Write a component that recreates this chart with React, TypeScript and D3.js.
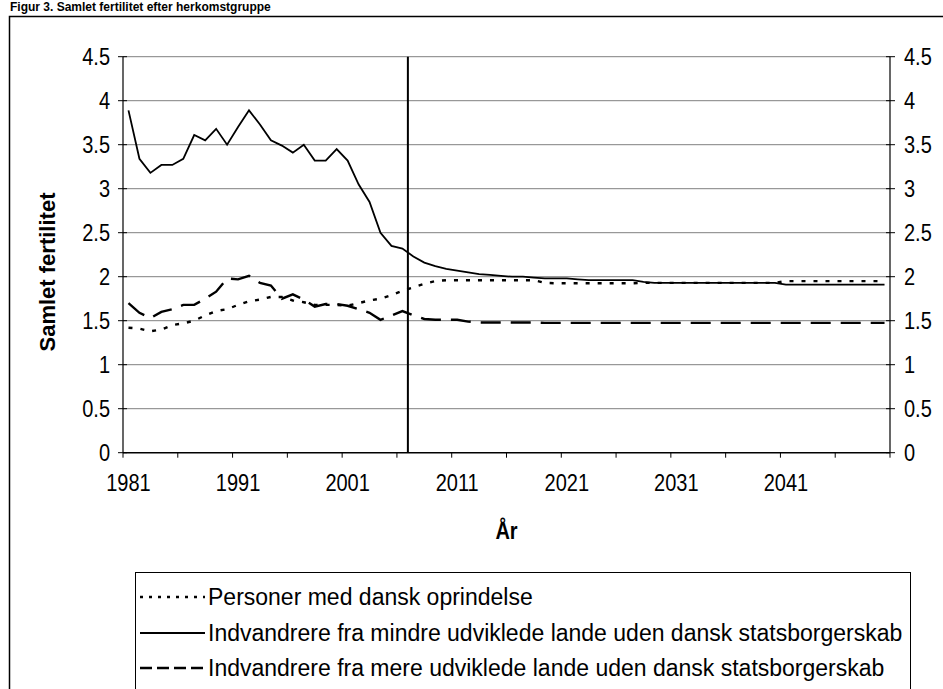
import React from "react";
import * as d3 from "d3";

const years: number[] = d3.range(1981, 2051);

const tickLabels: string[] = ["1981", "1991", "2001", "2011", "2021", "2031", "2041"];
const yTicks: number[] = [0, 0.5, 1, 1.5, 2, 2.5, 3, 3.5, 4, 4.5];

// Personer med dansk oprindelse
const danskValues: number[] = [
  1.42, 1.41, 1.38, 1.40, 1.45, 1.47, 1.50, 1.56, 1.61, 1.63,
  1.68, 1.72, 1.74, 1.77, 1.77, 1.73, 1.71, 1.68, 1.68, 1.68,
  1.67, 1.70, 1.73, 1.75, 1.79, 1.84, 1.88, 1.92, 1.95, 1.96,
  1.96, 1.96, 1.96, 1.96, 1.96, 1.96, 1.96, 1.96, 1.93, 1.925,
  1.925, 1.925, 1.925, 1.925, 1.925, 1.925, 1.925, 1.93, 1.93, 1.93,
  1.93, 1.93, 1.93, 1.93, 1.93, 1.93, 1.93, 1.93, 1.93, 1.93,
  1.95, 1.95, 1.95, 1.95, 1.95, 1.95, 1.95, 1.95, 1.95, 1.95,
];

// Indvandrere fra mindre udviklede lande
const mindreValues: number[] = [
  3.89, 3.34, 3.18, 3.27, 3.27, 3.34, 3.61, 3.55, 3.68, 3.50,
  3.70, 3.89, 3.73, 3.55, 3.49, 3.41, 3.50, 3.32, 3.32, 3.45,
  3.32, 3.05, 2.85, 2.50, 2.35, 2.32, 2.23, 2.16, 2.12, 2.09,
  2.07, 2.05, 2.03, 2.02, 2.01, 2.00, 2.00, 1.99, 1.98, 1.98,
  1.98, 1.97, 1.96, 1.96, 1.96, 1.96, 1.96, 1.94, 1.93, 1.93,
  1.93, 1.93, 1.93, 1.93, 1.93, 1.93, 1.93, 1.93, 1.93, 1.93,
  1.91, 1.91, 1.91, 1.91, 1.91, 1.91, 1.91, 1.91, 1.91, 1.91,
];

// Indvandrere fra mere udviklede lande
const mereValues: number[] = [
  1.70, 1.59, 1.53, 1.60, 1.63, 1.68, 1.68, 1.75, 1.83, 1.98,
  1.97, 2.01, 1.93, 1.90, 1.75, 1.80, 1.74, 1.66, 1.69, 1.69,
  1.67, 1.63, 1.59, 1.51, 1.56, 1.61, 1.56, 1.52, 1.51, 1.51,
  1.51, 1.49, 1.48, 1.48, 1.48, 1.48, 1.48, 1.48, 1.475, 1.475,
  1.475, 1.475, 1.475, 1.475, 1.475, 1.475, 1.475, 1.475, 1.475, 1.475,
  1.475, 1.475, 1.475, 1.475, 1.475, 1.475, 1.475, 1.475, 1.475, 1.475,
  1.475, 1.475, 1.475, 1.475, 1.475, 1.475, 1.475, 1.475, 1.475, 1.475,
];

const splitYear = 2007;

const seriesNames: string[] = [
  "Personer med dansk oprindelse",
  "Indvandrere fra mindre udviklede lande uden dansk statsborgerskab",
  "Indvandrere fra mere udviklede lande uden dansk statsborgerskab",
];

const titleText = "Figur 3. Samlet fertilitet efter herkomstgruppe";

const FONT = "'Liberation Sans', Arial, sans-serif";

export default function App() {
  const W = 943;
  const H = 689;
  const left = 123;
  const right = 890;
  const top = 56.7;
  const bottom = 452.7;

  const x = d3.scaleBand<number>().domain(years).range([left, right]).padding(0);
  const y = d3.scaleLinear().domain([0, 4.5]).range([bottom, top]);
  const cx = (yr: number) => (x(yr) as number) + x.bandwidth() / 2;

  const line = d3
    .line<number>()
    .x((_, i) => cx(years[i]))
    .y((d) => y(d));

  const series = [
    { name: seriesNames[0], values: danskValues, dash: "4,8", width: 2.4, legendDash: "3,6" },
    { name: seriesNames[1], values: mindreValues, dash: "", width: 1.8, legendDash: "" },
    { name: seriesNames[2], values: mereValues, dash: "20,10", width: 2.4, legendDash: "12,5" },
  ];

  const xTickIdx = d3.range(0, years.length + 1, 5);
  const xTickPos = (i: number) => left + i * x.bandwidth();
  const splitX = x(splitYear) as number;

  const legendX = 135;
  const legendY = 572;
  const legendRows = [597, 633, 668];

  const stretched = (tx: number, ty: number) => `translate(${tx},${ty}) scale(1,1.15)`;

  return (
    <div style={{ position: "absolute", left: 0, top: 0 }}>
      <svg width={W} height={H} style={{ display: "block", background: "#fff" }}>
        <text x={10} y={11} fontFamily={FONT} fontWeight="bold" fontSize={12} fill="#000">
          {titleText}
        </text>
        {/* outer frame */}
        <rect x={9.5} y={16.5} width={W + 20} height={H + 20} fill="none" stroke="#000" strokeWidth={1.5} />

        {/* gridlines */}
        {yTicks.filter((t) => t > 0).map((t) => (
          <line key={t} x1={left} x2={right} y1={y(t)} y2={y(t)} stroke="#808080" strokeWidth={1} />
        ))}

        {/* axes */}
        <line x1={left} x2={left} y1={top} y2={bottom} stroke="#000" strokeWidth={1.2} />
        <line x1={right} x2={right} y1={top} y2={bottom} stroke="#000" strokeWidth={1.2} />
        <line x1={left} x2={right} y1={bottom} y2={bottom} stroke="#000" strokeWidth={1.5} />
        {yTicks.map((t) => (
          <g key={"yt" + t}>
            <line x1={left - 5} x2={left + 4} y1={y(t)} y2={y(t)} stroke="#000" strokeWidth={1} />
            <line x1={right - 4} x2={right + 5} y1={y(t)} y2={y(t)} stroke="#000" strokeWidth={1} />
            <text transform={stretched(left - 13, y(t) + 8)} textAnchor="end" fontFamily={FONT} fontSize={20} fill="#000">
              {String(t)}
            </text>
            <text transform={stretched(right + 14, y(t) + 8)} textAnchor="start" fontFamily={FONT} fontSize={20} fill="#000">
              {String(t)}
            </text>
          </g>
        ))}
        {xTickIdx.map((i) => (
          <line key={"xt" + i} x1={xTickPos(i)} x2={xTickPos(i)} y1={bottom} y2={bottom + 5} stroke="#000" strokeWidth={1} />
        ))}
        {tickLabels.map((lab) => (
          <text key={lab} transform={stretched(cx(+lab), 491)} textAnchor="middle" fontFamily={FONT} fontSize={20} fill="#000">
            {lab}
          </text>
        ))}

        <text transform={stretched((left + right) / 2, 539)} textAnchor="middle" fontFamily={FONT} fontWeight="bold" fontSize={20} fill="#000">
          År
        </text>
        <text
          transform={`translate(55, 272) rotate(-90)`}
          textAnchor="middle"
          fontFamily={FONT}
          fontWeight="bold"
          fontSize={22}
          fill="#000"
        >
          Samlet fertilitet
        </text>

        {/* split line */}
        <line x1={splitX} x2={splitX} y1={top} y2={bottom} stroke="#000" strokeWidth={2} />

        {/* series */}
        {series.map((s) => (
          <path
            key={s.name}
            d={line(s.values) || ""}
            fill="none"
            stroke="#000"
            strokeWidth={s.width}
            strokeDasharray={s.dash || undefined}
          />
        ))}

        {/* legend */}
        <rect x={legendX + 0.5} y={legendY + 0.5} width={775} height={150} fill="#fff" stroke="#000" strokeWidth={1} />
        {series.map((s, i) => (
          <g key={"lg" + i}>
            <line
              x1={legendX + 5}
              x2={legendX + 70}
              y1={legendRows[i]}
              y2={legendRows[i]}
              stroke="#000"
              strokeWidth={s.width}
              strokeDasharray={s.legendDash || undefined}
            />
            <text x={legendX + 73} y={legendRows[i] + 8} fontFamily={FONT} fontSize={23} fill="#000">
              {s.name}
            </text>
          </g>
        ))}
      </svg>
    </div>
  );
}
